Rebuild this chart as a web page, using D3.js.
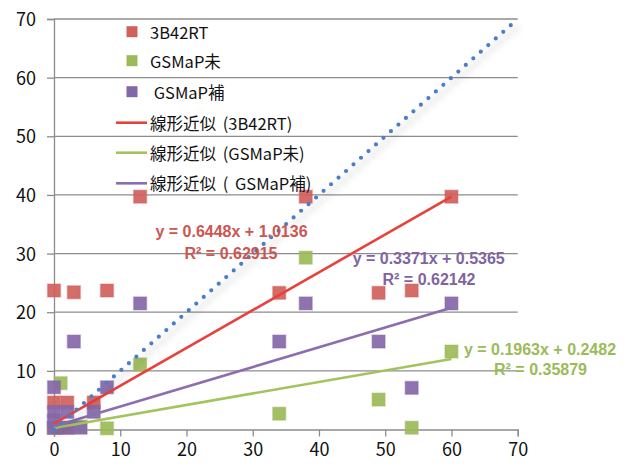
<!DOCTYPE html>
<html lang="ja">
<head>
<meta charset="utf-8">
<title>scatter</title>
<script src="https://cdn.jsdelivr.net/npm/d3@7"></script>
<style>
  html, body { margin: 0; padding: 0; background: #fff; }
  svg { display: block; font-family: "Noto Sans CJK JP", "Liberation Sans", sans-serif; }
</style>
</head>
<body>
<script>
// data
let redPts = [[0,23.7],[3,23.4],[8,23.7],[13,39.7],[34,23.3],[38,39.7],[49,23.3],[54,23.7],[60,39.7],
              [0,4.6],[2,4.6],[6,4.6],[0,0.3],[2,0.3]];
let greenPts = [[1,7.9],[8,0.2],[13,11.1],[34,2.7],[38,29.3],[49,5.1],[54,0.3],[60,13.3],[0,0.3],[4,0.5]];
let purplePts = [[0,7.2],[3,15.0],[8,7.2],[13,21.5],[34,15.0],[38,21.5],[49,15.0],[54,7.1],[60,21.5],
                 [0,3],[2,3],[6,3],[0,1.5],[0,0.3],[2,0.3],[4,0.3]];
let seriesNames = ["3B42RT", "GSMaP未", " GSMaP補"];
let trendNames = ["線形近似 (3B42RT)", "線形近似 (GSMaP未)", "線形近似 ( GSMaP補)"];
let slopes = [0.6448, 0.1963, 0.3371];
let intercepts = [1.0136, 0.2482, 0.5365];
let eqText = ["y = 0.6448x + 1.0136", "y = 0.1963x + 0.2482", "y = 0.3371x + 0.5365"];
let r2Text = ["R² = 0.62915", "R² = 0.35879", "R² = 0.62142"];
let ticks = [0, 10, 20, 30, 40, 50, 60, 70];

let markColors = ["#d0605c", "#9bbb59", "#8467a8"];
let lineColors = ["#e8413b", "#a2c45c", "#8b6db0"];
let textColors = ["#cc5651", "#9bbb59", "#8064a2"];

let w = 628, h = 466;
let svg = d3.select("body").append("svg").attr("width", w).attr("height", h);

let x = d3.scaleLinear().domain([0, 70]).range([54, 517.7]);
let y = d3.scaleLinear().domain([0, 70]).range([429.5, 19]);

let defs = svg.append("defs");
defs.append("filter").attr("id", "shadow")
    .attr("x", "-20%").attr("y", "-20%").attr("width", "140%").attr("height", "140%")
    .append("feDropShadow")
    .attr("dx", 4).attr("dy", 4).attr("stdDeviation", 3.5)
    .attr("flood-color", "#000").attr("flood-opacity", 0.3);

// gridlines
svg.append("g").selectAll("line")
    .data(ticks.slice(1))
    .enter().append("line")
    .attr("x1", x(0)).attr("x2", x(70))
    .attr("y1", d => y(d)).attr("y2", d => y(d))
    .attr("stroke", "#8c8c8c").attr("stroke-width", 1.3);

// axes
let xAxis = d3.axisBottom(x).tickValues(ticks).tickSize(7).tickPadding(7);
let yAxis = d3.axisLeft(y).tickValues(ticks).tickSize(7).tickPadding(11);

let gx = svg.append("g").attr("transform", "translate(0," + y(0) + ")").call(xAxis);
let gy = svg.append("g").attr("transform", "translate(" + x(0) + ",0)").call(yAxis);
[gx, gy].forEach(g => {
    g.select(".domain").attr("stroke", "#8c8c8c").attr("stroke-width", 1.3);
    g.selectAll(".tick line").attr("stroke", "#8c8c8c").attr("stroke-width", 1.3);
    g.selectAll(".tick text").attr("fill", "#111").attr("font-size", 18)
        .attr("font-family", "Noto Sans CJK JP, sans-serif");
});
gy.selectAll(".tick text").attr("dy", "0.36em");

// markers
let allPts = [redPts, greenPts, purplePts];
allPts.forEach((pts, i) => {
    svg.append("g").selectAll("rect")
        .data(pts)
        .enter().append("rect")
        .attr("x", d => x(d[0]) - 6.5)
        .attr("y", d => y(d[1]) - 6.5)
        .attr("width", 13).attr("height", 13)
        .attr("fill", markColors[i])
        .attr("fill-opacity", 0.92)
        .attr("stroke", markColors[i]).attr("stroke-opacity", 0.35).attr("stroke-width", 1.5);
});

// trend lines
slopes.forEach((s, i) => {
    svg.append("line")
        .attr("x1", x(0)).attr("y1", y(intercepts[i]))
        .attr("x2", x(60)).attr("y2", y(s * 60 + intercepts[i]))
        .attr("stroke", lineColors[i]).attr("stroke-width", 2.6);
});

// 1:1 dotted line
svg.append("line")
    .attr("x1", x(0)).attr("y1", y(0))
    .attr("x2", x(70)).attr("y2", y(70))
    .attr("stroke", "#4a7fc9").attr("stroke-width", 4.2)
    .attr("stroke-linecap", "round")
    .attr("stroke-dasharray", "0 10")
    .attr("filter", "url(#shadow)");

// equation labels
let eqPos = [[231.5, 231.7, 231, 253], [540, 349, 540.5, 369], [428.7, 258, 429, 279]];
eqText.forEach((t, i) => {
    let p = eqPos[i];
    let g = svg.append("g").attr("fill", textColors[i])
        .attr("font-family", "Liberation Sans, Arial, sans-serif")
        .attr("font-weight", "bold").attr("font-size", 16)
        .attr("text-anchor", "middle").attr("dominant-baseline", "central");
    g.append("text").attr("x", p[0]).attr("y", p[1]).text(t);
    g.append("text").attr("x", p[2]).attr("y", p[3]).text(r2Text[i]);
});

// legend
let legY = [31.7, 60.7, 91.7, 122.7, 152.7, 183.3];
let leg = svg.append("g").attr("font-size", 16.5).attr("fill", "#111");
seriesNames.forEach((n, i) => {
    leg.append("rect")
        .attr("x", 126.5).attr("y", legY[i] - 5.5)
        .attr("width", 11).attr("height", 11)
        .attr("fill", markColors[i]);
    leg.append("text").attr("x", 150).attr("y", legY[i])
        .attr("dominant-baseline", "central")
        .attr("xml:space", "preserve")
        .text(n);
});
trendNames.forEach((n, i) => {
    leg.append("line")
        .attr("x1", 116).attr("x2", 147)
        .attr("y1", legY[i + 3]).attr("y2", legY[i + 3])
        .attr("stroke", lineColors[i]).attr("stroke-width", 2.6);
    leg.append("text").attr("x", 150).attr("y", legY[i + 3])
        .attr("dominant-baseline", "central")
        .attr("xml:space", "preserve")
        .attr("word-spacing", 3)
        .text(n);
});
</script>
</body>
</html>
